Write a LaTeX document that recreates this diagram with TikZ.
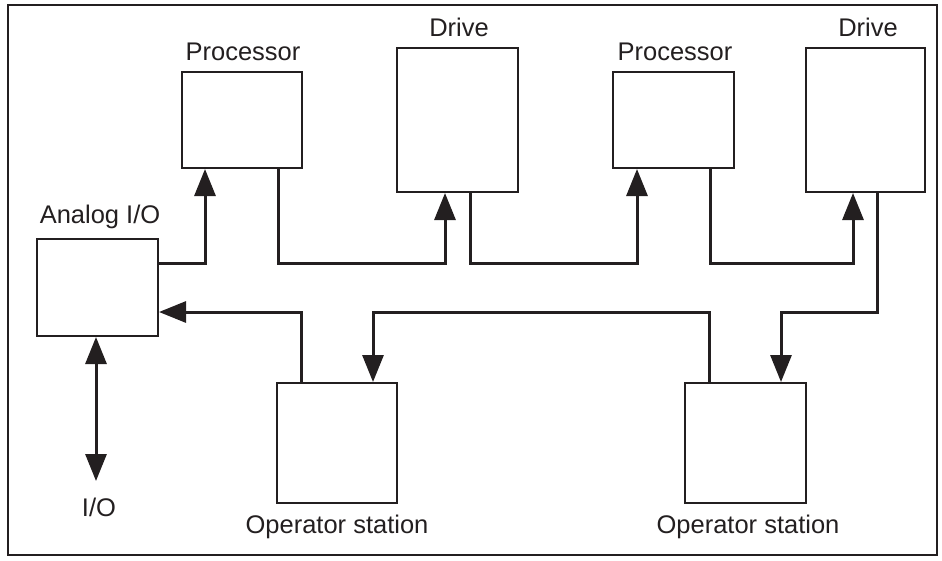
\documentclass[tikz,border=0pt]{standalone}
\usepackage{fontspec}
\setmainfont{Liberation Sans}
\usetikzlibrary{arrows.meta}
\definecolor{ink}{HTML}{231F20}
\begin{document}
\begin{tikzpicture}[x=1pt,y=-1pt,
  box/.style={draw=ink,line width=2pt,fill=white,inner sep=0pt},
  lbl/.style={text=ink,font=\fontsize{25.5}{30}\selectfont,inner sep=0pt,anchor=center},
  conn/.style={draw=ink,line width=3pt,line join=miter},
  arr/.style={conn,-{Triangle[length=27pt,width=21pt]}},
  darr/.style={conn,{Triangle[length=27pt,width=21pt]}-{Triangle[length=27pt,width=21pt]}}]
\useasboundingbox (0,0) rectangle (942,560);
\draw[ink,line width=2pt] (8,5) rectangle (937,555);
% boxes
\node[box,minimum width=121pt,minimum height=97pt] (analog) at (97.5,287.5) {};
\node[box,minimum width=120pt,minimum height=96pt] (proc1) at (242,120) {};
\node[box,minimum width=121pt,minimum height=144pt] (drive1) at (457.5,120) {};
\node[box,minimum width=121pt,minimum height=96pt] (proc2) at (673.5,120) {};
\node[box,minimum width=119pt,minimum height=144pt] (drive2) at (865.5,120) {};
\node[box,minimum width=120pt,minimum height=120pt] (op1) at (337,443) {};
\node[box,minimum width=121pt,minimum height=120pt] (op2) at (745.5,443) {};
% labels
\node[lbl] (lanalog) at (100,217) {Analog I/O};
\node[lbl] (lproc1) at (243,52) {Processor};
\node[lbl] (ldrive1) at (459,27) {Drive};
\node[lbl] (lproc2) at (675,52) {Processor};
\node[lbl] (ldrive2) at (868,27) {Drive};
\node[lbl] (lop1) at (337,527) {Operator station};
\node[lbl] (lop2) at (748,527) {Operator station};
\node[lbl] (lio) at (99,507) {I/O};
\coordinate (io) at (96,481);
% connectors
\draw[arr] (analog.east |- 0,263) -- (205,263) -- (proc1.south -| 205,0);
\draw[arr] (proc1.south -| 278,0) -- (278,263) -- (445,263) -- (drive1.south -| 445,0);
\draw[arr] (drive1.south -| 470,0) -- (470,263) -- (637,263) -- (proc2.south -| 637,0);
\draw[arr] (proc2.south -| 710,0) -- (710,263) -- (853,263) -- (drive2.south -| 853,0);
\draw[arr] (drive2.south -| 877,0) -- (877,312) -- (781,312) -- (op2.north -| 781,0);
\draw[arr] (op2.north -| 709,0) -- (709,312) -- (373,312) -- (op1.north -| 373,0);
\draw[arr] (op1.north -| 301,0) -- (301,312) -- (analog.east |- 0,312);
\draw[darr] (analog.south -| 96,0) -- (io);
\end{tikzpicture}
\end{document}
